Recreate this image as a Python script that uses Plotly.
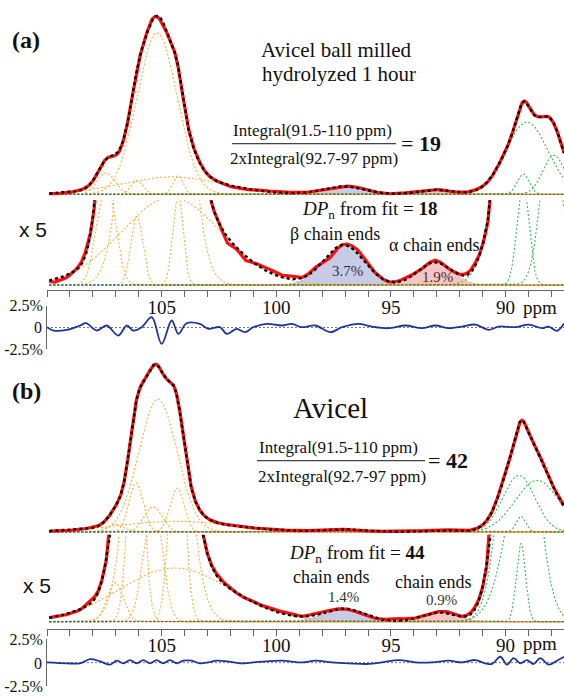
import numpy as np
import plotly.graph_objects as go

W, H = 564, 698

# ---------------- data ----------------
tick_pos = list(range(88, 111))
tick_major = {105: "105", 100: "100", 95: "95", 90: "90"}
tick_lbl = [tick_major.get(v, "") for v in tick_pos]
res_tick_vals = [-2.5, 2.5]
res_tick_text = ["-2.5%", "2.5%"]

# panel (a) fitted Gaussian components: centre (ppm), sigma (ppm), height (% of max)
a_or_c = [107.43, 106.08, 105.20, 104.29, 104.59]
a_or_w = [0.39, 0.26, 0.87, 0.22, 2.18]
a_or_h = [12.4, 7.9, 93.0, 10.7, 10.1]
a_gr_c = [89.07, 89.24, 87.89]
a_gr_w = [0.92, 0.26, 0.48]
a_gr_h = [41.6, 11.8, 22.5]
a_end_c = [97.05, 93.08]          # beta, alpha chain ends
a_end_w = [0.87, 0.74]
a_end_h = [4.6, 2.64]
a_res_ppm = [110.0, 109.72, 109.14, 108.56, 108.30, 107.83, 107.40, 106.89, 106.52, 106.24,
             105.87, 105.43, 105.00, 104.56, 104.27, 103.91, 103.33, 102.97, 102.46, 102.16,
             101.73, 101.37, 101.00, 100.42, 99.75, 99.32, 98.88, 98.30, 97.64, 97.13,
             96.41, 95.83, 95.10, 94.37, 93.65, 93.07, 92.48, 91.90, 91.32, 90.74,
             90.30, 89.58, 88.99, 88.41, 88.12, 87.76, 87.45]
a_res_val = [0.03, -0.34, -0.27, 0.23, 0.49, -0.34, 0.23, -0.91, 0.23, -0.34,
             0.04, 1.17, -1.86, 0.80, -0.72, 0.49, 0.42, -0.15, 0.04, -0.72,
             -0.15, -0.53, 0.04, 0.42, 0.23, 0.42, 0.04, 0.23, -0.53, 0.04,
             0.42, 0.11, -0.08, 0.23, -0.08, 0.23, -0.08, 0.11, 0.34, -0.27,
             0.11, 0.04, 0.34, -0.08, 0.11, -0.38, 0.45]

# panel (b)
b_or_c = [107.03, 106.12, 105.38, 105.16, 104.33, 104.42]
b_or_w = [0.35, 0.305, 0.39, 0.83, 0.305, 2.40]
b_or_h = [4.65, 29.1, 15.1, 79.1, 26.2, 6.4]
b_gr_c = [89.42, 88.63, 89.33]
b_gr_w = [0.70, 0.96, 0.20]
b_gr_h = [33.7, 30.8, 9.3]
b_end_c = [97.05, 92.90]
b_end_w = [0.87, 0.74]
b_end_h = [1.51, 1.10]
b_res_ppm = [110.0, 109.14, 108.56, 108.12, 107.69, 107.25, 106.96, 106.67, 106.38, 106.09,
             105.80, 105.51, 105.22, 104.93, 104.64, 104.34, 104.06, 103.69, 103.33, 102.97,
             102.60, 102.16, 101.58, 101.00, 100.42, 99.75, 98.88, 98.30, 97.57, 96.84,
             95.97, 95.39, 94.66, 93.94, 93.21, 92.48, 91.90, 91.32, 90.89, 90.59,
             90.23, 89.94, 89.65, 89.36, 89.07, 88.78, 88.49, 88.12, 87.76, 87.45]
b_res_val = [0.03, -0.07, -0.07, 0.38, 0.14, -0.21, 0.21, -0.07, 0.28, -0.07,
             0.28, -0.07, 0.28, -0.07, 0.28, -0.07, 0.21, 0.21, -0.07, 0.03,
             0.21, 0.14, -0.07, 0.03, 0.14, 0.21, 0.03, 0.21, 0.03, -0.07,
             -0.14, 0.03, 0.28, 0.03, 0.03, 0.21, 0.03, 0.28, -0.07, -0.14,
             0.63, -0.21, 0.49, -0.07, 0.28, -0.14, 0.49, -0.21, 0.21, 0.63]

# ---------------- styling ----------------
ORANGE = "#f6b143"
GREEN = "#3fb65a"
RED = "#ff1010"
LAV, LAV_LINE = "#c8cbe6", "#8a98d6"
PINK, PINK_LINE = "#f8c4c4", "#ee9a9a"
RESID = "#22339a"
AX = "#666666"
SERIF = "Liberation Serif, Times New Roman, serif"
SANS = "Liberation Sans, Arial, sans-serif"

xg = np.linspace(109.9, 87.45, 1600)


def gauss(c, w, h):
    return h * np.exp(-0.5 * ((xg - c) / w) ** 2)


def py(px):
    return 1 - px / H


def pxx(px):
    return px / W


fig = go.Figure()


def add_panel(xref, ymain, yx5, yres, orc, orw, orh, grc, grw, grh, endc, endw, endh, rppm, rval):
    orange = [gauss(c, w, h) for c, w, h in zip(orc, orw, orh)]
    green = [gauss(c, w, h) for c, w, h in zip(grc, grw, grh)]
    ends = [gauss(c, w, h) for c, w, h in zip(endc, endw, endh)]
    fit = sum(orange) + sum(green) + sum(ends)
    red = fit + np.interp(xg, rppm[::-1], rval[::-1])
    for ya in (ymain, yx5):
        for comp, fc, lc in zip(ends, (LAV, PINK), (LAV_LINE, PINK_LINE)):
            fig.add_trace(go.Scatter(x=xg, y=comp, mode="lines", fill="tozeroy", fillcolor=fc,
                                     line=dict(color=lc, width=1, dash="2px,2px"),
                                     xaxis=xref, yaxis=ya, hoverinfo="skip"))
        for comp in orange:
            fig.add_trace(go.Scatter(x=xg, y=comp, mode="lines",
                                     line=dict(color=ORANGE, width=1.1, dash="2px,2px"),
                                     xaxis=xref, yaxis=ya, hoverinfo="skip"))
        for comp in green:
            fig.add_trace(go.Scatter(x=xg, y=comp, mode="lines",
                                     line=dict(color=GREEN, width=1.1, dash="2px,2px"),
                                     xaxis=xref, yaxis=ya, hoverinfo="skip"))
        fig.add_trace(go.Scatter(x=[xg[0], xg[-1]], y=[0, 0], mode="lines",
                                 line=dict(color="#555555", width=1, dash="2px,2px"),
                                 xaxis=xref, yaxis=ya, hoverinfo="skip"))
        fig.add_trace(go.Scatter(x=xg, y=red, mode="lines", line=dict(color=RED, width=3.2),
                                 xaxis=xref, yaxis=ya, hoverinfo="skip"))
        fig.add_trace(go.Scatter(x=xg, y=fit, mode="lines",
                                 line=dict(color="#000000", width=2.4, dash="dot"),
                                 xaxis=xref, yaxis=ya, hoverinfo="skip"))
    # residual
    fig.add_trace(go.Scatter(x=[110.0, 87.45], y=[0, 0], mode="lines",
                             line=dict(color="#777777", width=1, dash="2px,2px"),
                             xaxis=xref, yaxis=yres, hoverinfo="skip"))
    fig.add_trace(go.Scatter(x=rppm, y=rval, mode="lines", line=dict(color=RESID, width=1.8, shape="spline"),
                             xaxis=xref, yaxis=yres, hoverinfo="skip"))


add_panel("x", "y", "y2", "y3", a_or_c, a_or_w, a_or_h, a_gr_c, a_gr_w, a_gr_h,
          a_end_c, a_end_w, a_end_h, a_res_ppm, a_res_val)
add_panel("x2", "y5", "y6", "y7", b_or_c, b_or_w, b_or_h, b_gr_c, b_gr_w, b_gr_h,
          b_end_c, b_end_w, b_end_h, b_res_ppm, b_res_val)


def xaxis(pos_px):
    return dict(domain=[pxx(47), 1], range=[110, 87.453], anchor="free", position=py(pos_px),
                showline=True, linecolor=AX, linewidth=1, ticks="outside", ticklen=6,
                tickcolor=AX, tickwidth=1, tickmode="array", tickvals=tick_pos, ticktext=tick_lbl,
                ticklabelstandoff=-6,
                tickfont=dict(family=SERIF, size=19, color="#111"), showgrid=False, zeroline=False)


def hidden_y(bottom_px, top_px, scale, anchor):
    return dict(domain=[py(bottom_px), py(top_px)],
                range=[-3 / scale, (bottom_px - 3 - top_px) / scale],
                visible=False, anchor=anchor, showgrid=False, zeroline=False)


def res_y(bottom_px, top_px, anchor):
    return dict(domain=[py(bottom_px), py(top_px)], range=[-2.5, 2.5], anchor=anchor,
                showline=True, linecolor=AX, linewidth=1, ticks="inside", ticklen=5, tickcolor=AX,
                tickmode="array", tickvals=res_tick_vals, ticktext=res_tick_text,
                tickfont=dict(family=SERIF, size=16, color="#111"), showgrid=False, zeroline=False)


layout = dict(
    width=W, height=H, margin=dict(l=0, r=0, t=0, b=0),
    paper_bgcolor="white", plot_bgcolor="rgba(0,0,0,0)", showlegend=False,
    xaxis=xaxis(289), xaxis2=xaxis(636),
    yaxis=hidden_y(194, 5, 1.78, "x"),
    yaxis2=hidden_y(287, 197, 8.9, "x"),
    yaxis3=res_y(350, 305, "x"),
    yaxis5=hidden_y(540, 355, 1.72, "x2"),
    yaxis6=hidden_y(632, 540, 8.6, "x2"),
    yaxis7=res_y(695, 647, "x2"),
)
fig.update_layout(**layout)


def ann(text, xc, yc, size, family=SERIF, color="#111", xanchor="center"):
    return dict(text=text, x=pxx(xc), y=py(yc), xref="paper", yref="paper", showarrow=False,
                xanchor=xanchor, yanchor="middle", font=dict(family=family, size=size, color=color))


anns = [
    ann("<b>(a)</b>", 26, 33, 24),
    ann("Avicel ball milled", 337, 43, 21),
    ann("hydrolyzed 1 hour", 339, 68, 21),
    ann("Integral(91.5-110 ppm)", 312, 126, 17),
    ann("2xIntegral(92.7-97 ppm)", 314, 154, 17),
    ann("= <b>19</b>", 421, 139, 22),
    ann("<i>DP</i><sub>n</sub> from fit = <b>18</b>", 370, 207, 19),
    ann("β chain ends", 335, 232, 18),
    ann("α chain ends", 434, 243, 18),
    ann("3.7%", 347, 270, 15, color="#333"),
    ann("1.9%", 437, 276, 15, color="#333"),
    ann("x 5", 33, 227, 21, family=SANS),
    ann("ppm", 540, 307, 19),
    ann("0", 38, 327, 16),
    ann("<b>(b)</b>", 26, 393, 24),
    ann("Avicel", 330, 410, 29),
    ann("Integral(91.5-110 ppm)", 338, 450, 17),
    ann("2xIntegral(92.7-97 ppm)", 342, 480, 17),
    ann("= <b>42</b>", 448, 464, 22),
    ann("<i>DP</i><sub>n</sub> from fit = <b>44</b>", 357, 560, 19),
    ann("chain ends", 331, 583, 18),
    ann("1.4%", 343, 604, 15, color="#333"),
    ann("chain ends", 433, 588, 18),
    ann("0.9%", 441, 607, 15, color="#333"),
    ann("x 5", 37, 592, 21, family=SANS),
    ann("ppm", 540, 651, 19),
    ann("0", 38, 672, 16),
]
shapes = [
    dict(type="line", xref="paper", yref="paper", x0=pxx(232), x1=pxx(396), y0=py(139), y1=py(139),
         line=dict(color="#444", width=1.2)),
    dict(type="line", xref="paper", yref="paper", x0=pxx(257), x1=pxx(425), y0=py(464), y1=py(464),
         line=dict(color="#444", width=1.2)),
]
fig.update_layout(annotations=anns, shapes=shapes)

fig.write_html("out.html")
